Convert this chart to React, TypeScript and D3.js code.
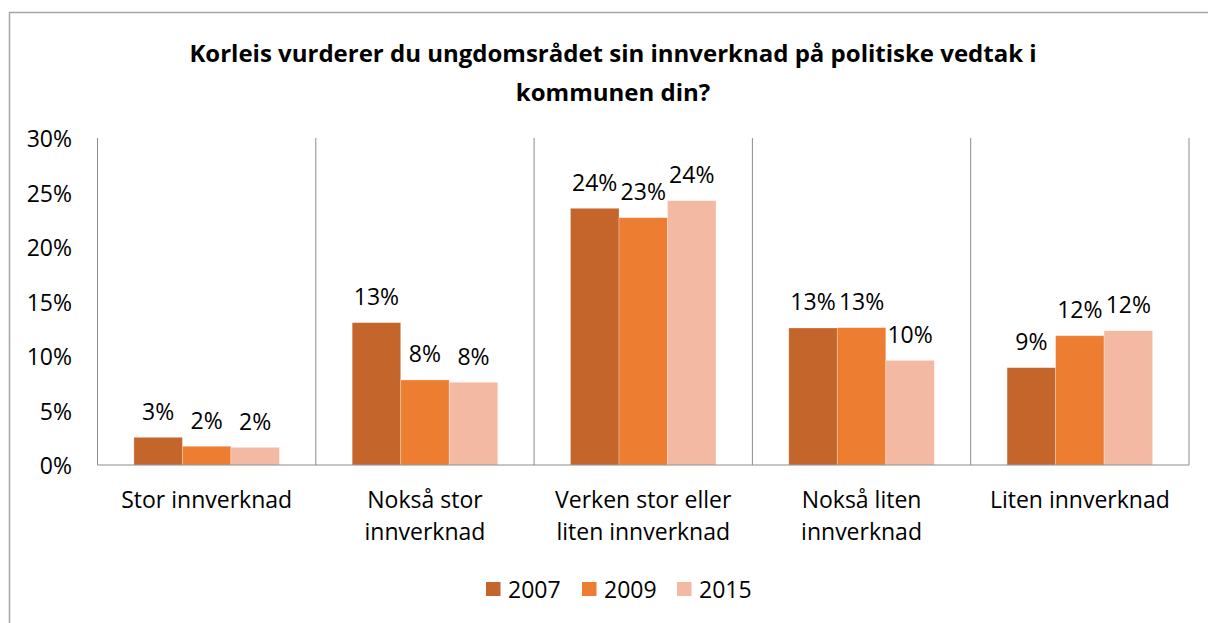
import React from "react";
import * as d3 from "d3";

const categories: string[][] = [
  ["Stor innverknad"],
  ["Nokså stor", "innverknad"],
  ["Verken stor eller", "liten innverknad"],
  ["Nokså liten", "innverknad"],
  ["Liten innverknad"],
];
const seriesNames = ["2007", "2009", "2015"];
const values2007 = [2.54, 13.06, 23.55, 12.57, 8.93];
const values2009 = [1.72, 7.8, 22.69, 12.6, 11.86];
const values2015 = [1.62, 7.59, 24.25, 9.6, 12.32];
const yTicks = [0, 5, 10, 15, 20, 25, 30];
const titleLines = [
  "Korleis vurderer du ungdomsrådet sin innverknad på politiske vedtak i",
  "kommunen din?",
];

const colors = ["#C4652B", "#ED7D31", "#F4B9A3"];
const FONT = "'Open Sans', sans-serif";

export default function App() {
  const W = 1208, H = 623;
  const left = 97.5, right = 1189, top = 138, bottom = 465;
  const seriesValues = [values2007, values2009, values2015];
  const catIdx = categories.map((_, i) => String(i));
  const x0 = d3.scaleBand<string>().domain(catIdx).range([left, right]).padding(0);
  const x1 = d3.scaleBand<string>().domain(seriesNames).range([0, x0.bandwidth()]).paddingInner(0).paddingOuter(0.75);
  const y = d3.scaleLinear().domain([0, 30]).range([bottom, top]);
  const axisColor = "#8C8C8C";

  const legendX = [486, 582, 677];

  return (
    <svg width={W} height={H} style={{ position: "absolute", left: 0, top: 0, display: "block" }} fontFamily={FONT}>
      <rect x={0} y={0} width={W} height={H} fill="#fff" />
      <rect x={9.5} y={12.5} width={W + 10} height={H + 10} fill="none" stroke="#A6A6A6" strokeWidth={1.5} />
      {titleLines.map((t, i) => (
        <text key={i} x={613} y={52 + i * 39} textAnchor="middle" dominantBaseline="central" fontSize={24} fontWeight="bold" fill="#000">
          {t}
        </text>
      ))}
      {/* category dividers */}
      {catIdx.map((c) => (
        <line key={c} x1={(x0(c) as number) + x0.bandwidth()} x2={(x0(c) as number) + x0.bandwidth()} y1={top} y2={bottom} stroke={axisColor} strokeWidth={1} />
      ))}
      {/* bars */}
      {seriesNames.map((s, si) =>
        seriesValues[si].map((v, ci) => {
          const bx = (x0(String(ci)) as number) + (x1(s) as number);
          return (
            <rect key={s + ci} x={bx} y={y(v)} width={x1.bandwidth()} height={bottom - y(v)} fill={colors[si]} stroke="#ffffff" strokeOpacity={0.35} strokeWidth={0.8} />
          );
        })
      )}
      {/* axes */}
      <line x1={left} x2={left} y1={top} y2={bottom} stroke={axisColor} strokeWidth={1} />
      <line x1={left} x2={right} y1={bottom} y2={bottom} stroke={axisColor} strokeWidth={1} />
      {yTicks.map((t) => (
        <text key={t} x={72} y={y(t)} textAnchor="end" dominantBaseline="central" fontSize={23} fill="#000">
          {t + "%"}
        </text>
      ))}
      {/* data labels */}
      {seriesNames.map((s, si) =>
        seriesValues[si].map((v, ci) => {
          const cx = (x0(String(ci)) as number) + (x1(s) as number) + x1.bandwidth() / 2;
          return (
            <text key={"l" + s + ci} x={cx} y={y(v) - 26.5} textAnchor="middle" dominantBaseline="central" fontSize={23} fill="#000">
              {Math.round(v) + "%"}
            </text>
          );
        })
      )}
      {/* category labels */}
      {categories.map((lines, ci) => (
        <g key={"c" + ci}>
          {lines.map((ln, li) => (
            <text key={li} x={(x0(String(ci)) as number) + x0.bandwidth() / 2} y={499 + li * 31.5} textAnchor="middle" dominantBaseline="central" fontSize={23} fill="#000">
              {ln}
            </text>
          ))}
        </g>
      ))}
      {/* legend */}
      {seriesNames.map((s, si) => (
        <g key={"lg" + s}>
          <rect x={legendX[si]} y={582} width={14.5} height={14} fill={colors[si]} />
          <text x={legendX[si] + 22} y={588.5} dominantBaseline="central" fontSize={23} fill="#000">
            {s}
          </text>
        </g>
      ))}
    </svg>
  );
}
